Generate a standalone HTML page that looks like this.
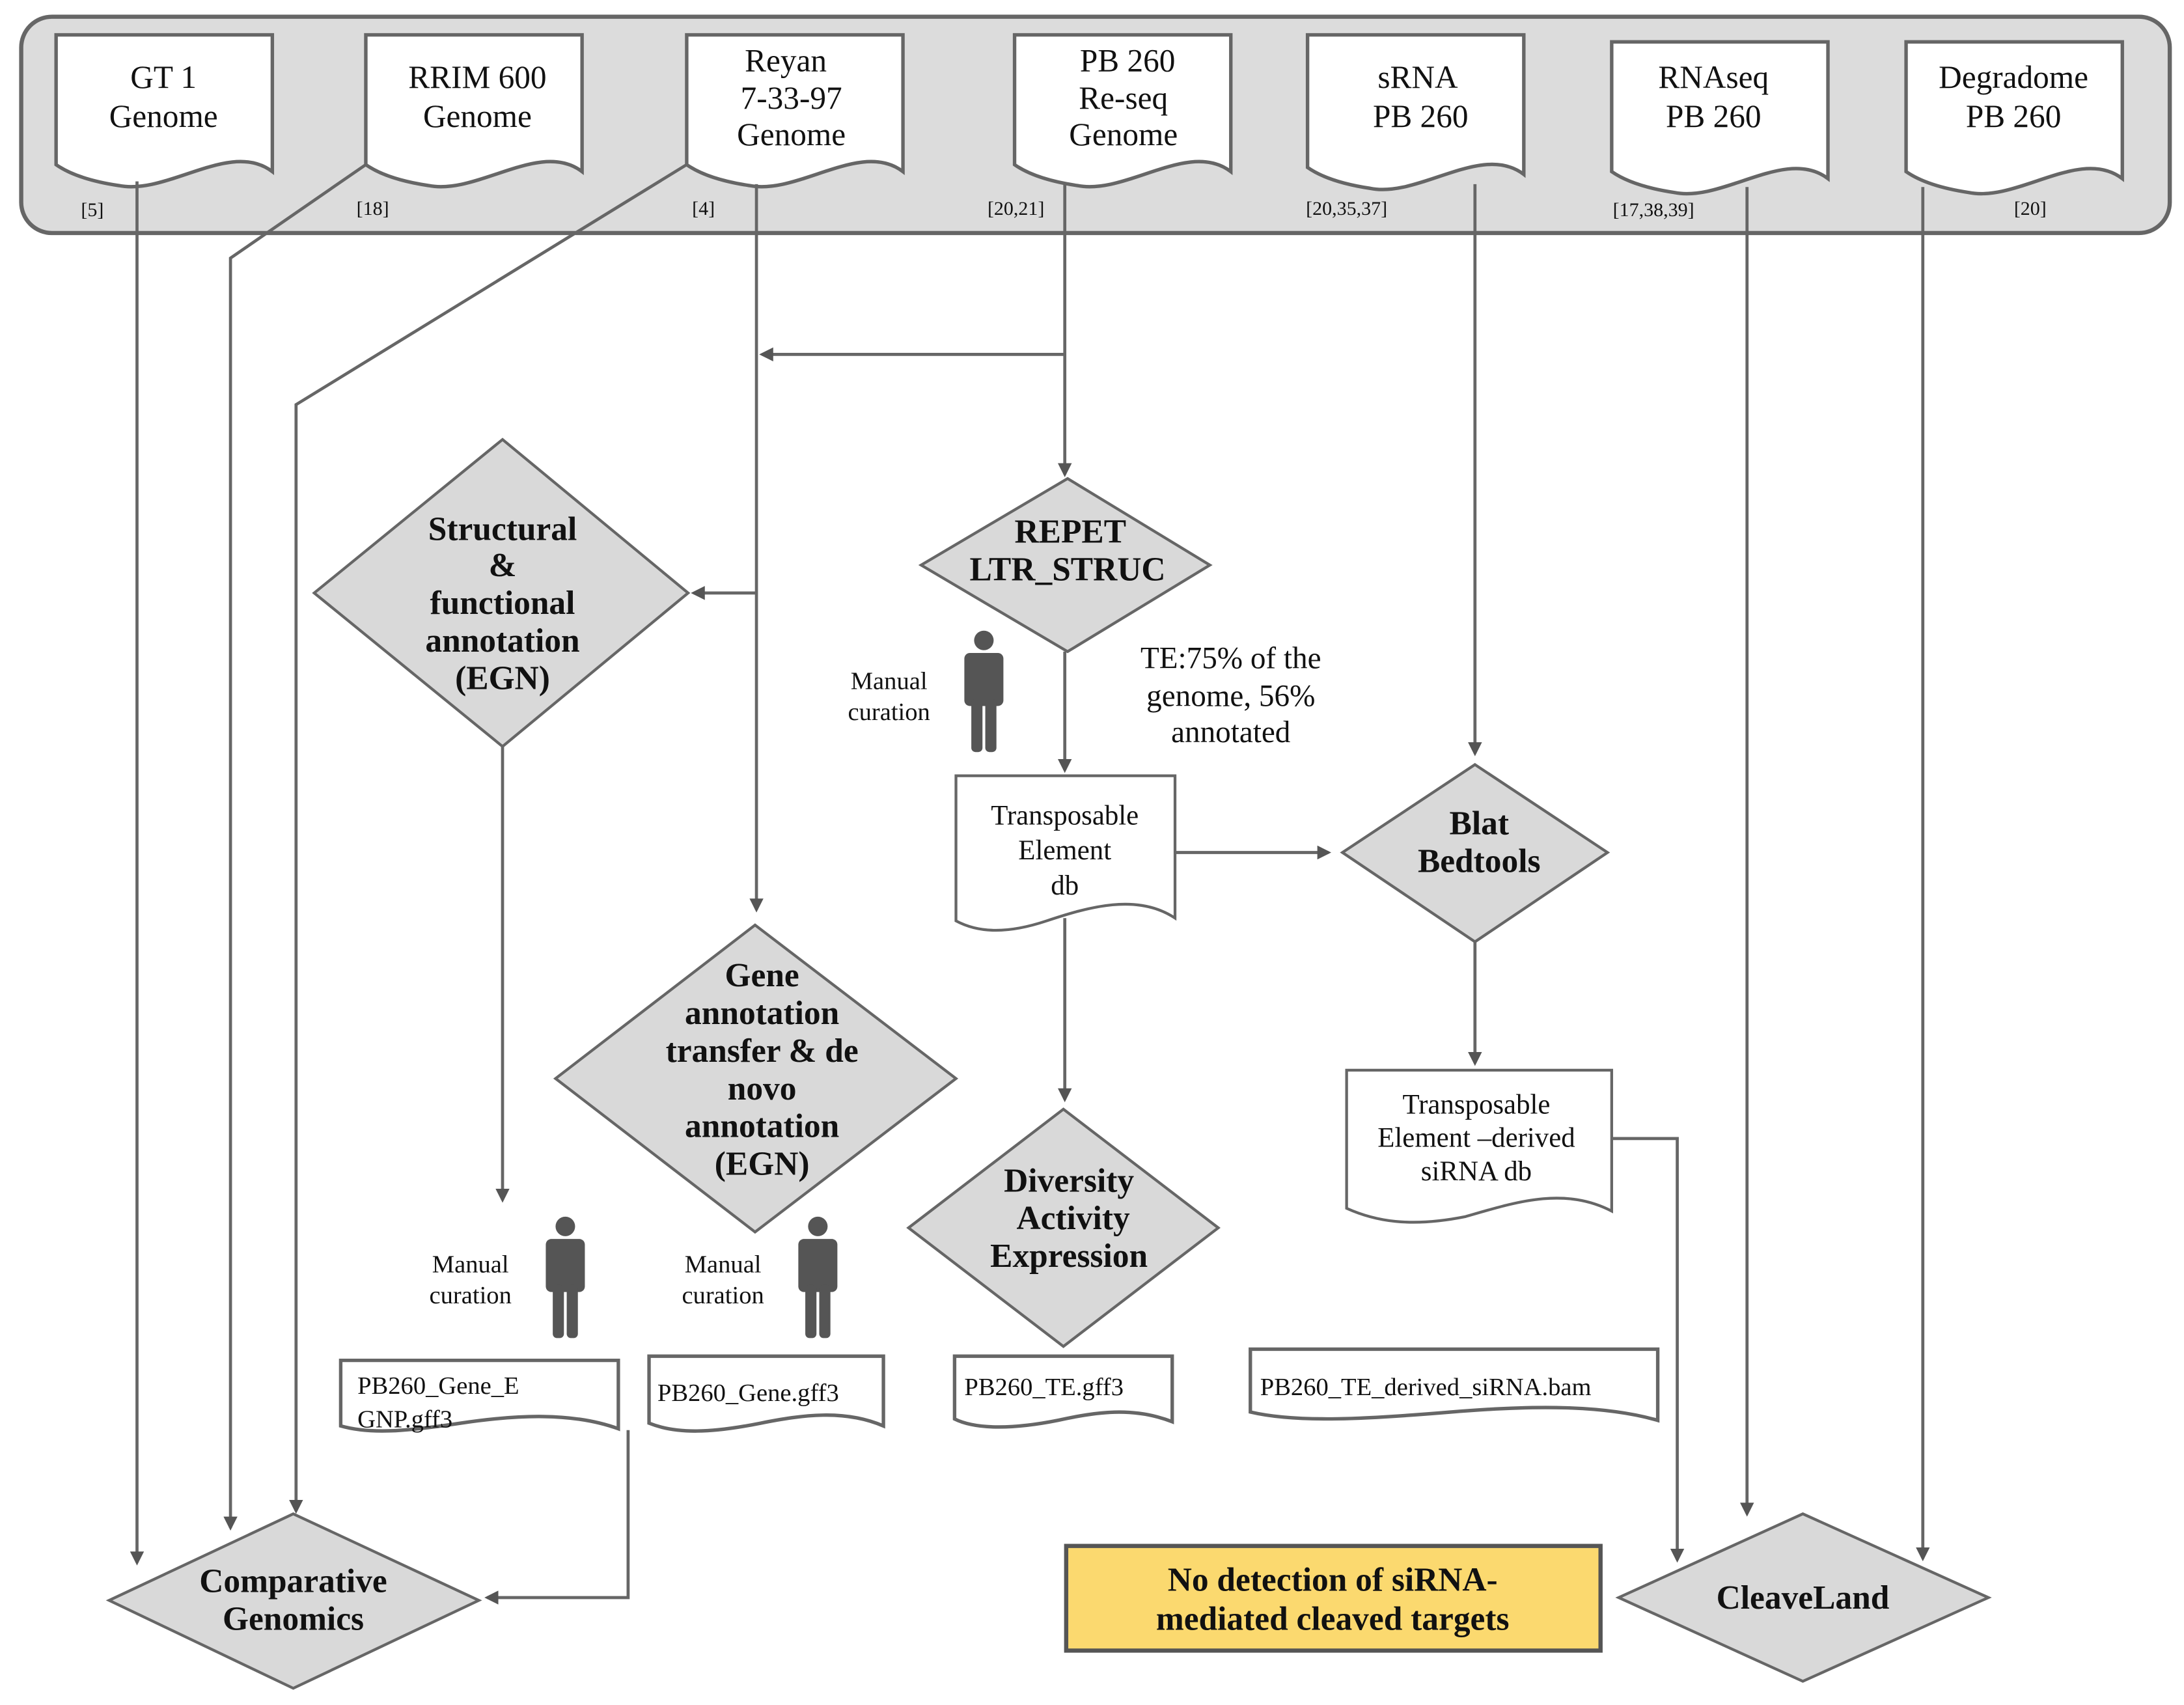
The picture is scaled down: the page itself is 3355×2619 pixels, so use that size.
<!DOCTYPE html>
<html><head><meta charset="utf-8"><style>
html,body{margin:0;padding:0;background:#fff;}
svg{display:block;}
svg text{font-family:'Liberation Serif','Times New Roman',serif;fill:#111;}
</style></head><body>
<svg width="3355" height="2619" viewBox="0 0 1565 1222" xmlns="http://www.w3.org/2000/svg" font-family="Liberation Serif, Times New Roman, serif">
<defs>
<marker id="a" markerWidth="10" markerHeight="10" refX="8" refY="5" orient="auto" markerUnits="userSpaceOnUse">
<path d="M0,0 L10,5 L0,10 z" fill="#555"/>
</marker>
<g id="man" fill="#555">
<circle cx="0" cy="-34" r="7"/>
<rect x="-14" y="-25" width="28" height="38" rx="4"/>
<rect x="-9" y="8" width="8" height="38" rx="3"/>
<rect x="1" y="8" width="8" height="38" rx="3"/>
</g>
</defs>

<rect x="15" y="12" width="1540" height="155" rx="22" fill="#dcdcdc" stroke="#666" stroke-width="3"/>

<g fill="#fff" stroke="#666" stroke-width="2.5">
<path d="M40,25 H195 V123 C165,100 120,140 85,133 C65,130 50,125 40,118 Z"/>
<path d="M262,25 H417 V123 C387,100 342,140 307,133 C287,130 272,125 262,118 Z"/>
<path d="M492,25 H647 V123 C617,100 572,140 537,133 C517,130 502,125 492,118 Z"/>
<path d="M727,25 H882 V123 C852,100 807,140 772,133 C752,130 737,125 727,118 Z"/>
<path d="M937,25 H1092 V125 C1062,102 1017,142 982,135 C962,132 947,127 937,120 Z"/>
<path d="M1155,30 H1310 V128 C1280,105 1235,145 1200,138 C1180,135 1165,130 1155,123 Z"/>
<path d="M1366,30 H1521 V128 C1491,105 1446,145 1411,138 C1391,135 1376,130 1366,123 Z"/>
</g>
<g font-size="23" text-anchor="middle">
<text x="117" y="63">GT 1</text><text x="117" y="91">Genome</text>
<text x="342" y="63">RRIM 600</text><text x="342" y="91">Genome</text>
<text x="563" y="51">Reyan</text><text x="567" y="78">7-33-97</text><text x="567" y="104">Genome</text>
<text x="808" y="51">PB 260</text><text x="805" y="78">Re-seq</text><text x="805" y="104">Genome</text>
<text x="1016" y="63">sRNA</text><text x="1018" y="91">PB 260</text>
<text x="1228" y="63">RNAseq</text><text x="1228" y="91">PB 260</text>
<text x="1443" y="63">Degradome</text><text x="1443" y="91">PB 260</text>
</g>
<g font-size="14" text-anchor="middle">
<text x="66" y="155">[5]</text><text x="267" y="154">[18]</text><text x="504" y="154">[4]</text>
<text x="728" y="154">[20,21]</text><text x="965" y="154">[20,35,37]</text><text x="1185" y="155">[17,38,39]</text><text x="1455" y="154">[20]</text>
</g>

<g stroke="#666" stroke-width="2.2" fill="none">
<path d="M98,130 V1120" marker-end="url(#a)"/>
<path d="M262,118 L165,185 V1095" marker-end="url(#a)"/>
<path d="M492,118 L212,290 V1083" marker-end="url(#a)"/>
<path d="M542,132 V652" marker-end="url(#a)"/>
<path d="M763,132 V340" marker-end="url(#a)"/>
<path d="M763,254 H546" marker-end="url(#a)"/>
<path d="M542,425 H497" marker-end="url(#a)"/>
<path d="M360,535 V860" marker-end="url(#a)"/>
<path d="M763,467 V552" marker-end="url(#a)"/>
<path d="M842,611 H952" marker-end="url(#a)"/>
<path d="M1057,132 V540" marker-end="url(#a)"/>
<path d="M1057,675 V762" marker-end="url(#a)"/>
<path d="M1155,816 H1202 V1118" marker-end="url(#a)"/>
<path d="M763,658 V788" marker-end="url(#a)"/>
<path d="M450,1025 V1145 H349" marker-end="url(#a)"/>
<path d="M1252,134 V1085" marker-end="url(#a)"/>
<path d="M1378,134 V1117" marker-end="url(#a)"/>
</g>

<g fill="#d9d9d9" stroke="#666" stroke-width="2">
<polygon points="360,315 493,425 360,535 225,425"/>
<polygon points="765,343 867,405 765,467 660,405"/>
<polygon points="1057,548 1152,611 1057,675 962,611"/>
<polygon points="541,663 685,773 541,883 398,773"/>
<polygon points="762,795 873,880 762,965 651,880"/>
<polygon points="210,1085 343,1147 210,1210 78,1147"/>
<polygon points="1292,1085 1425,1145 1292,1205 1160,1145"/>
</g>
<g font-size="24" text-anchor="middle" font-weight="bold">
<text x="360" y="387">Structural</text>
<text x="360" y="413">&amp;</text>
<text x="360" y="440">functional</text>
<text x="360" y="467">annotation</text>
<text x="360" y="494">(EGN)</text>
<text x="767" y="389">REPET</text>
<text x="765" y="416">LTR_STRUC</text>
<text x="1060" y="598">Blat</text>
<text x="1060" y="625">Bedtools</text>
<text x="546" y="707">Gene</text>
<text x="546" y="734">annotation</text>
<text x="546" y="761">transfer &amp; de</text>
<text x="546" y="788">novo</text>
<text x="546" y="815">annotation</text>
<text x="546" y="842">(EGN)</text>
<text x="766" y="854">Diversity</text>
<text x="769" y="881">Activity</text>
<text x="766" y="908">Expression</text>
<text x="210" y="1141">Comparative</text>
<text x="210" y="1168">Genomics</text>
<text x="1292" y="1153">CleaveLand</text>
</g>

<g font-size="22" text-anchor="middle">
<text x="882" y="479">TE:75% of the</text>
<text x="882" y="506">genome, 56%</text>
<text x="882" y="532">annotated</text>
</g>

<g fill="#fff" stroke="#666" stroke-width="2">
<path d="M685,556 H842 V658 C815,640 780,650 750,660 C720,670 700,668 685,660 Z"/>
<path d="M965,767 H1155 V868 C1120,850 1085,862 1050,872 C1010,880 985,875 965,866 Z"/>
</g>
<g font-size="20" text-anchor="middle">
<text x="763" y="591">Transposable</text>
<text x="763" y="616">Element</text>
<text x="763" y="641">db</text>
<text x="1058" y="798">Transposable</text>
<text x="1058" y="822">Element –derived</text>
<text x="1058" y="846">siRNA db</text>
</g>

<use href="#man" x="705" y="493"/>
<use href="#man" x="405" y="913"/>
<use href="#man" x="586" y="913"/>
<g font-size="18" text-anchor="middle">
<text x="637" y="494">Manual</text><text x="637" y="516">curation</text>
<text x="337" y="912">Manual</text><text x="337" y="934">curation</text>
<text x="518" y="912">Manual</text><text x="518" y="934">curation</text>
</g>

<g fill="#fff" stroke="#666" stroke-width="2.5">
<path d="M244,975 H443 V1024 C410,1012 370,1014 330,1020 C290,1026 265,1028 244,1022 Z"/>
<path d="M465,972 H633 V1022 C605,1010 575,1014 545,1020 C510,1027 485,1028 465,1020 Z"/>
<path d="M684,972 H840 V1019 C812,1008 785,1012 758,1018 C728,1024 700,1025 684,1017 Z"/>
<path d="M896,967 H1188 V1018 C1150,1007 1100,1007 1040,1012 C980,1017 930,1020 896,1012 Z"/>
</g>
<g font-size="18">
<text x="256" y="999">PB260_Gene_E</text>
<text x="256" y="1023">GNP.gff3</text>
<text x="471" y="1004">PB260_Gene.gff3</text>
<text x="691" y="1000">PB260_TE.gff3</text>
<text x="903" y="1000">PB260_TE_derived_siRNA.bam</text>
</g>

<rect x="764" y="1108" width="383" height="75" fill="#fbd96f" stroke="#555" stroke-width="3"/>
<g font-size="24" text-anchor="middle" font-weight="bold">
<text x="955" y="1140">No detection of siRNA-</text>
<text x="955" y="1168">mediated cleaved targets</text>
</g>
</svg>
</body></html>
